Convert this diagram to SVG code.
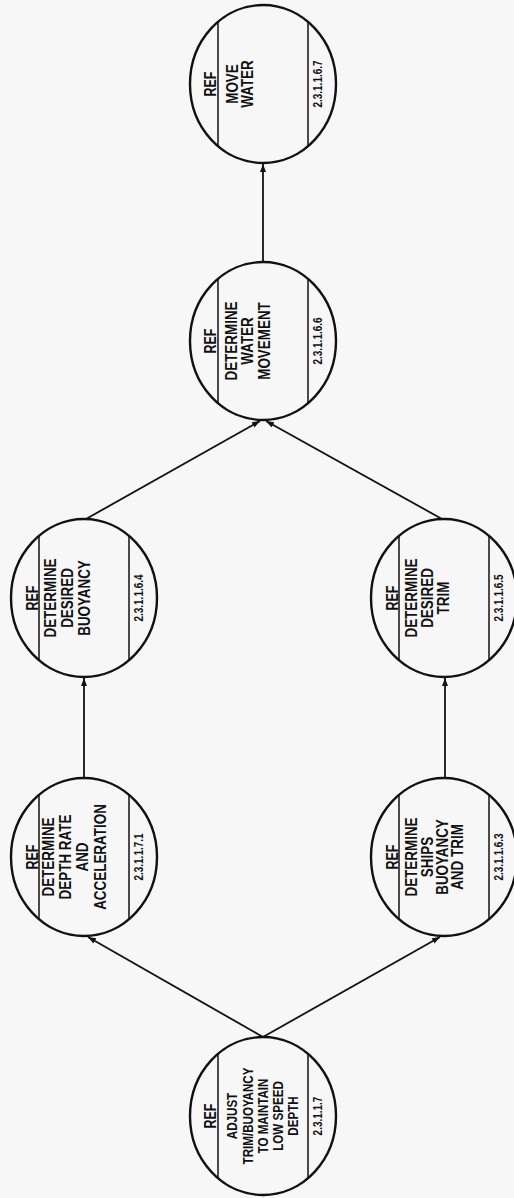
<svg xmlns="http://www.w3.org/2000/svg" width="514" height="1198" viewBox="0 0 514 1198">
<defs>
<style>
.bub{fill:none;stroke:#111;stroke-width:2.4}
.ch{stroke:#111;stroke-width:1.5}
.con{fill:none;stroke:#111;stroke-width:1.8}
.t{font-family:"Liberation Sans",Arial,sans-serif;font-weight:bold;font-size:16px;fill:#111;text-anchor:middle}
.s{font-size:14.5px}
.n{font-size:12.5px}
</style>
<marker id="ah" viewBox="0 0 8 6" refX="8" refY="3" markerWidth="8" markerHeight="6" markerUnits="userSpaceOnUse" orient="auto">
<path d="M0,0 L8,3 L0,6 Z" fill="#111"/>
</marker>
</defs>
<rect width="514" height="1198" fill="#f7f7f7"/>

<g id="connectors">
<path class="con" d="M263,1037 L88,937" marker-end="url(#ah)"/>
<path class="con" d="M263,1037 L440,937" marker-end="url(#ah)"/>
<path class="con" d="M84,778 L84,678" marker-end="url(#ah)"/>
<path class="con" d="M445,778 L445,678" marker-end="url(#ah)"/>
<path class="con" d="M86,519 L260,421" marker-end="url(#ah)"/>
<path class="con" d="M442,519 L266,421" marker-end="url(#ah)"/>
<path class="con" d="M263,262 L263,164" marker-end="url(#ah)"/>
</g>

<g id="move-water">
<ellipse class="bub" cx="263" cy="84" rx="73" ry="79"/>
<line class="ch" x1="218" y1="22" x2="218" y2="146"/>
<line class="ch" x1="308" y1="22" x2="308" y2="146"/>
<g transform="translate(263,84) rotate(-90)">
<g transform="scale(0.78,1)"><text class="t" x="0" y="-47">REF</text></g>
<g transform="scale(0.84,1)"><text class="t" x="0" y="-25">MOVE</text><text class="t" x="0" y="-10">WATER</text></g>
<g transform="scale(0.8,1)"><text class="t n" x="0" y="59">2.3.1.1.6.7</text></g>
</g>
</g>

<g id="water-movement">
<ellipse class="bub" cx="263" cy="341" rx="73" ry="79"/>
<line class="ch" x1="218" y1="279" x2="218" y2="403"/>
<line class="ch" x1="308" y1="279" x2="308" y2="403"/>
<g transform="translate(263,341) rotate(-90)">
<g transform="scale(0.78,1)"><text class="t" x="0" y="-47">REF</text></g>
<g transform="scale(0.84,1)"><text class="t" x="0" y="-26">DETERMINE</text><text class="t" x="0" y="-10">WATER</text><text class="t" x="0" y="7">MOVEMENT</text></g>
<g transform="scale(0.8,1)"><text class="t n" x="0" y="59">2.3.1.1.6.6</text></g>
</g>
</g>

<g id="desired-buoyancy">
<ellipse class="bub" cx="84" cy="598" rx="73" ry="79"/>
<line class="ch" x1="39" y1="536" x2="39" y2="660"/>
<line class="ch" x1="129" y1="536" x2="129" y2="660"/>
<g transform="translate(84,598) rotate(-90)">
<g transform="scale(0.78,1)"><text class="t" x="0" y="-46">REF</text></g>
<g transform="scale(0.84,1)"><text class="t" x="0" y="-28">DETERMINE</text><text class="t" x="0" y="-11">DESIRED</text><text class="t" x="0" y="6">BUOYANCY</text></g>
<g transform="scale(0.8,1)"><text class="t n" x="0" y="59">2.3.1.1.6.4</text></g>
</g>
</g>

<g id="desired-trim">
<ellipse class="bub" cx="444" cy="598" rx="73" ry="79"/>
<line class="ch" x1="399" y1="536" x2="399" y2="660"/>
<line class="ch" x1="489" y1="536" x2="489" y2="660"/>
<g transform="translate(444,598) rotate(-90)">
<g transform="scale(0.78,1)"><text class="t" x="0" y="-46">REF</text></g>
<g transform="scale(0.84,1)"><text class="t" x="0" y="-27">DETERMINE</text><text class="t" x="0" y="-11">DESIRED</text><text class="t" x="0" y="5">TRIM</text></g>
<g transform="scale(0.8,1)"><text class="t n" x="0" y="59">2.3.1.1.6.5</text></g>
</g>
</g>

<g id="depth-rate">
<ellipse class="bub" cx="84" cy="857" rx="73" ry="79"/>
<line class="ch" x1="39" y1="795" x2="39" y2="919"/>
<line class="ch" x1="129" y1="795" x2="129" y2="919"/>
<g transform="translate(84,857) rotate(-90)">
<g transform="scale(0.78,1)"><text class="t" x="0" y="-46">REF</text></g>
<g transform="scale(0.84,1)"><text class="t" x="0" y="-30">DETERMINE</text><text class="t" x="0" y="-13">DEPTH RATE</text><text class="t" x="0" y="4">AND</text><text class="t" x="0" y="22">ACCELERATION</text></g>
<g transform="scale(0.8,1)"><text class="t n" x="0" y="59">2.3.1.1.7.1</text></g>
</g>
</g>

<g id="ships-buoyancy">
<ellipse class="bub" cx="444" cy="857" rx="73" ry="79"/>
<line class="ch" x1="399" y1="795" x2="399" y2="919"/>
<line class="ch" x1="489" y1="795" x2="489" y2="919"/>
<g transform="translate(444,857) rotate(-90)">
<g transform="scale(0.78,1)"><text class="t" x="0" y="-46">REF</text></g>
<g transform="scale(0.84,1)"><text class="t" x="0" y="-27">DETERMINE</text><text class="t" x="0" y="-11">SHIPS</text><text class="t" x="0" y="4">BUOYANCY</text><text class="t" x="0" y="19">AND TRIM</text></g>
<g transform="scale(0.8,1)"><text class="t n" x="0" y="59">2.3.1.1.6.3</text></g>
</g>
</g>

<g id="adjust-trim">
<ellipse class="bub" cx="263" cy="1116" rx="73" ry="79"/>
<line class="ch" x1="218" y1="1054" x2="218" y2="1178"/>
<line class="ch" x1="308" y1="1054" x2="308" y2="1178"/>
<g transform="translate(263,1116) rotate(-90)">
<g transform="scale(0.78,1)"><text class="t" x="0" y="-47">REF</text></g>
<g transform="scale(0.8,1)"><text class="t s" x="0" y="-26">ADJUST</text><text class="t s" x="0" y="-10">TRIM/BUOYANCY</text><text class="t s" x="0" y="5">TO MAINTAIN</text><text class="t s" x="0" y="20">LOW SPEED</text><text class="t s" x="0" y="35">DEPTH</text></g>
<g transform="scale(0.8,1)"><text class="t n" x="0" y="59">2.3.1.1.7</text></g>
</g>
</g>
</svg>
